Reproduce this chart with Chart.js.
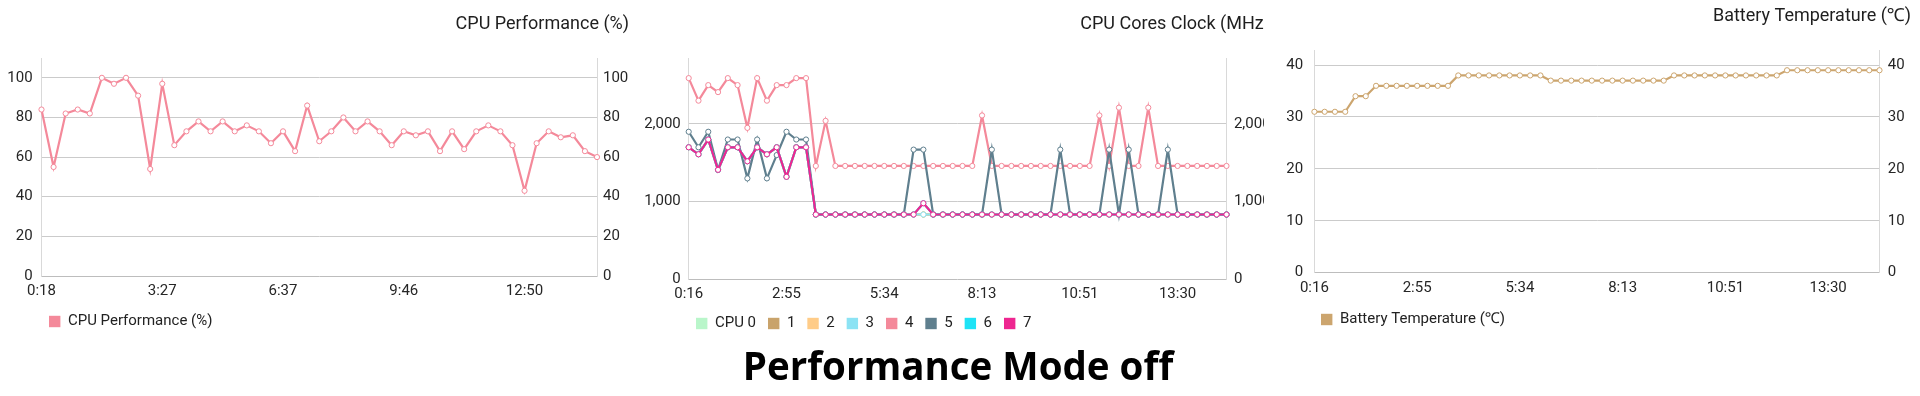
<!DOCTYPE html>
<html>
<head>
<meta charset="utf-8">
<title>Performance Mode off</title>
<script src="https://cdn.jsdelivr.net/npm/chart.js@4.4.1/dist/chart.umd.min.js"></script>
<style>
  html, body { margin: 0; padding: 0; background: #fff; }
  body { width: 1920px; height: 396px; position: relative; overflow: hidden; }
  .box { position: absolute; top: 0; }
  .clip { position: absolute; top: 0; overflow: hidden; }
  #caption {
    position: absolute; left: 958px; top: 339px; transform: translateX(-50%);
    font: 700 38.5px "Open Sans", sans-serif; line-height: 52px; white-space: nowrap; color: #000;
  }
</style>
</head>
<body>
<div class="box" style="left:0px;width:629px;height:339px"><canvas id="perf"></canvas></div>
<div class="clip" style="left:640px;width:624px;height:342px">
  <div style="position:relative;width:630px;height:341px"><canvas id="clock"></canvas></div>
</div>
<div class="box" style="left:1270px;width:641px;height:337px"><canvas id="temp"></canvas></div>
<div id="caption">Performance Mode off</div>

<script>
// CPU performance (%), one sample every ~19 s
const perfTicks = ['0:18', '3:27', '6:37', '9:46', '12:50'];
const perfValues = [84, 55, 82, 84, 82, 100, 97, 100, 91, 54, 97, 66, 73, 78, 73, 78, 73, 76, 73, 67,
  73, 63, 86, 68, 73, 80, 73, 78, 73, 66, 73, 71, 73, 63, 73, 64, 73, 76, 73, 66,
  43, 67, 73, 70, 71, 63, 60];

// core clocks (MHz), shared time axis with the battery chart
const clockTicks = ['0:16', '2:55', '5:34', '8:13', '10:51', '13:30'];
const cpuLittle = [1700, 1610, 1800, 1410, 1700, 1700, 1520, 1700, 1610, 1700, 1320, 1700, 1700,
  835, 835, 835, 835, 835, 835, 835, 835, 835, 835, 835, 835, 835, 835, 835, 835, 835, 835, 835,
  835, 835, 835, 835, 835, 835, 835, 835, 835, 835, 835, 835, 835, 835, 835, 835, 835, 835, 835,
  835, 835, 835, 835, 835];
const cpu4 = [2590, 2300, 2500, 2410, 2590, 2500, 1950, 2590, 2300, 2500, 2500, 2590, 2590,
  1460, 2040, 1460, 1460, 1460, 1460, 1460, 1460, 1460, 1460, 1460, 1460, 1460, 1460, 1460, 1460, 1460,
  2110, 1460, 1460, 1460, 1460, 1460, 1460, 1460, 1460, 1460, 1460, 1460,
  2110, 1460, 2210, 1460, 1460, 2210, 1460, 1460, 1460, 1460, 1460, 1460, 1460, 1460];
const cpu5 = [1900, 1700, 1900, 1410, 1800, 1800, 1300, 1800, 1300, 1600, 1900, 1800, 1800,
  835, 835, 835, 835, 835, 835, 835, 835, 835, 835, 1670, 1670,
  835, 835, 835, 835, 835, 835, 1670, 835, 835, 835, 835, 835, 835, 1670,
  835, 835, 835, 835, 1670, 835, 1670, 835, 835, 835, 1670, 835, 835, 835, 835, 835, 835];
const cpu7 = [1700, 1610, 1800, 1410, 1700, 1700, 1520, 1700, 1610, 1700, 1320, 1700, 1700,
  835, 835, 835, 835, 835, 835, 835, 835, 835, 835, 835, 980,
  835, 835, 835, 835, 835, 835, 835, 835, 835, 835, 835, 835, 835, 835, 835, 835,
  835, 835, 835, 835, 835, 835, 835, 835, 835, 835, 835, 835, 835, 835, 835];
const coreNames = ['CPU 0', '1', '2', '3', '4', '5', '6', '7'];
const coreColors = ['#b9f6ca', '#c9a36b', '#ffcc88', '#8ce3f4', '#f4899a', '#5f7f8e', '#1ee3f6', '#ee2690'];
const coreValues = [cpuLittle, cpuLittle, cpuLittle, cpuLittle, cpu4, cpu5, cpu7, cpu7];

// battery temperature (℃)
const tempValues = [31, 31, 31, 31, 34, 34, 36, 36, 36, 36, 36, 36, 36, 36,
  38, 38, 38, 38, 38, 38, 38, 38, 38,
  37, 37, 37, 37, 37, 37, 37, 37, 37, 37, 37, 37,
  38, 38, 38, 38, 38, 38, 38, 38, 38, 38, 38,
  39, 39, 39, 39, 39, 39, 39, 39, 39, 39];

Chart.defaults.font.family = 'Roboto, "Noto Sans", sans-serif';
Chart.defaults.color = '#262626';

// a time label every 10 samples
function timeRow(ticks, n) {
  return Array.from({ length: n }, (_, i) => (i % 10 === 0 ? ticks[i / 10] || '' : ''));
}

// moves the legend so its first box starts at opts.x
const legendShift = {
  id: 'legendShift',
  afterLayout(chart, args, opts) {
    chart.legend.left = opts.x - chart.legend.options.labels.padding;
  }
};

function yAxis(pos, max, step, width, pad, grid) {
  return {
    position: pos, min: 0, max: max,
    // only round steps, no tick at the padded top
    afterBuildTicks: s => {
      const t = [];
      for (let v = 0; v <= max; v += step) t.push({ value: v });
      s.ticks = t;
    },
    afterFit: s => { s.width = width; },
    ticks: { padding: pad, font: { size: 15 } },
    grid: {
      display: grid, drawTicks: false, lineWidth: 1,
      color: c => (c.tick && c.tick.value === 0 ? 'rgba(0,0,0,0)' : '#cbcbcb')
    },
    border: { color: '#d9d9d9', width: 1 }
  };
}

function line(label, data, color) {
  return {
    label: label, data: data, borderColor: color, backgroundColor: color,
    borderWidth: 2.2, pointRadius: 2.6, pointBorderWidth: 1,
    pointBackgroundColor: '#fff', pointBorderColor: color, tension: 0, fill: false, clip: 6
  };
}

function makeChart(id, o) {
  const labels = timeRow(o.ticks, o.datasets[0].data.length);
  const max = Math.max(...o.datasets.map(d => Math.max(...d.data))) * 1.1;
  return new Chart(id, {
    type: 'line',
    data: { labels: labels, datasets: o.datasets },
    plugins: [legendShift],
    options: {
      responsive: true,
      maintainAspectRatio: false,
      animation: false,
      events: [],
      scales: {
        x: {
          afterFit: s => { s.height = o.xH; },
          grid: { display: false, drawTicks: false },
          border: { color: '#bdbdbd', width: 1 },
          ticks: { autoSkip: false, maxRotation: 0, padding: o.xPad, font: { size: 15 } }
        },
        y: yAxis('left', max, o.step, o.leftW, o.leftPad, true),
        y1: yAxis('right', max, o.step, o.rightW, o.rightPad, false)
      },
      plugins: {
        legendShift: { x: o.legendX },
        title: {
          display: true, text: o.title, align: 'end', color: '#1e1e1e',
          font: { size: 18, weight: 'normal' },
          padding: { top: o.titleTop, bottom: o.titleBottom }
        },
        legend: {
          position: 'bottom', align: 'start',
          labels: {
            boxWidth: 11.4, boxHeight: 11.4, padding: o.legendPad, color: '#222',
            font: { size: 15 },
            sort: (a, b) => a.datasetIndex - b.datasetIndex,
            generateLabels: chart => Chart.defaults.plugins.legend.labels.generateLabels(chart)
              .map(l => Object.assign(l, { lineWidth: 0 }))
          }
        },
        tooltip: { enabled: false }
      }
    }
  });
}

makeChart('perf', {
  title: 'CPU Performance (%)', ticks: perfTicks, step: 20,
  datasets: [line('CPU Performance (%)', perfValues, '#f4899a')],
  leftW: 41.5, leftPad: 8.9, rightW: 32, rightPad: 6,
  titleTop: 13.2, titleBottom: 23.2, xH: 28, xPad: 6.7, legendX: 49, legendPad: 10
});

// later cores are drawn on top
const coreSets = coreNames.map((n, i) => Object.assign(line(n, coreValues[i], coreColors[i]), { order: 7 - i }));
makeChart('clock', {
  title: 'CPU Cores Clock (MHz)', ticks: clockTicks, step: 1000,
  datasets: coreSets,
  leftW: 48.7, leftPad: 7.9, rightW: 43.5, rightPad: 7.4,
  titleTop: 13.2, titleBottom: 23.2, xH: 24.6, xPad: 5.6, legendX: 56, legendPad: 12
});

makeChart('temp', {
  title: 'Battery Temperature (℃)', ticks: clockTicks, step: 10,
  datasets: [line('Battery Temperature (℃)', tempValues, '#cca56e')],
  leftW: 44.4, leftPad: 11.2, rightW: 31.5, rightPad: 8.2,
  titleTop: 5.2, titleBottom: 23.2, xH: 29.3, xPad: 6.6, legendX: 51, legendPad: 10
});
</script>
</body>
</html>
